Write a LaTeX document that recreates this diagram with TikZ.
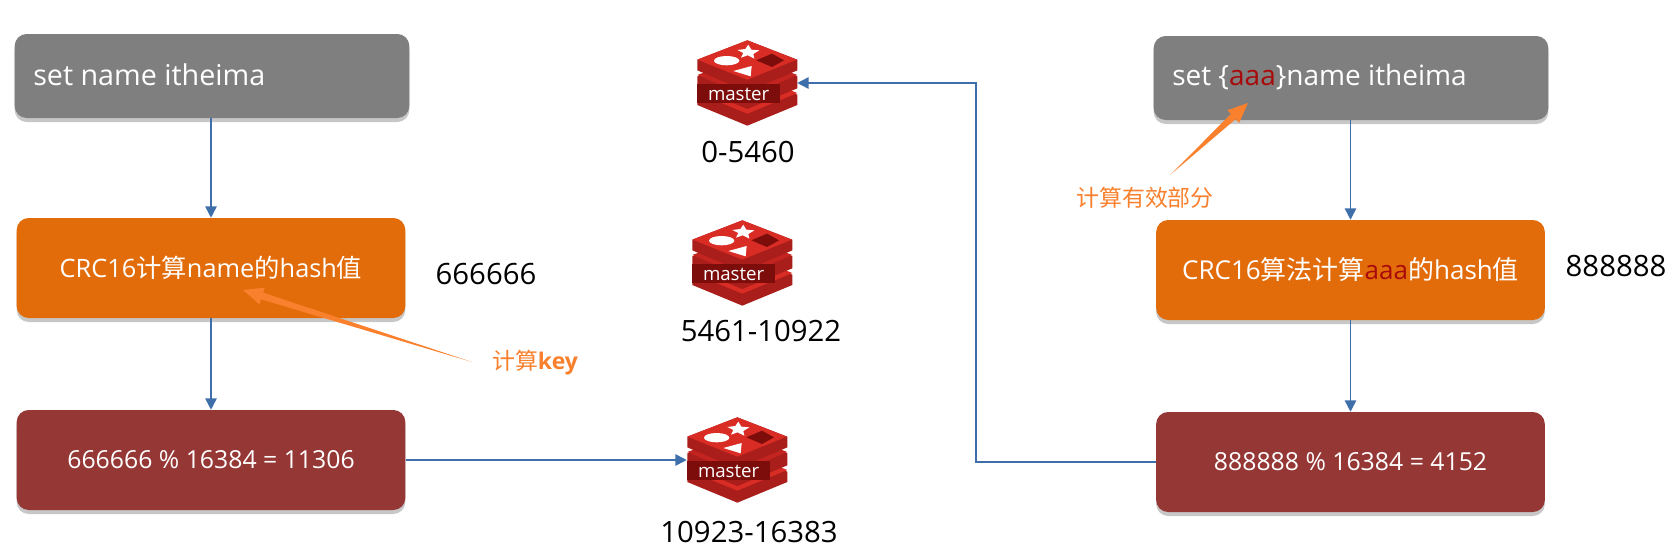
\documentclass[tikz,border=0pt]{standalone}
\usepackage{fontspec}
\setmainfont{Open Sans}
\newfontfamily\cjk{Noto Sans CJK SC}
\usetikzlibrary{arrows.meta,calc,shadows,positioning}
\definecolor{grayb}{HTML}{7F7F7F}
\definecolor{orangeb}{HTML}{E36C0A}
\definecolor{redb}{HTML}{953735}
\definecolor{linkb}{HTML}{3F6FAB}
\definecolor{note}{HTML}{F9812E}
\definecolor{aaared}{HTML}{A80A0A}
\definecolor{logoA}{HTML}{D92C25}
\definecolor{logoB}{HTML}{A91E1A}
\definecolor{logoC}{HTML}{C42420}
\definecolor{logoD}{HTML}{7C0D0B}
\tikzset{
  x=0.75pt,y=-0.75pt,
  boxbase/.style={rounded corners=12pt*0.75,minimum height=0.75pt*#1,inner sep=0pt,text=white,
    drop shadow={shadow xshift=0pt,shadow yshift=-3pt,opacity=.22,fill=black}},
  grayblock/.style={boxbase=84,fill=grayb,minimum width=296pt},
  orangeblock/.style={boxbase=100,fill=orangeb,minimum width=291.5pt,text=white},
  redblock/.style={boxbase=100,fill=redb,minimum width=291.5pt,font=\fontsize{18.6pt}{20pt}\selectfont},
  flow/.style={draw=linkb,line width=1.2pt,-{Triangle[length=8.5pt,width=8.5pt]}},
  plain/.style={font=\fontsize{22pt}{24pt}\selectfont,text=black,inner sep=0pt},
  notetext/.style={text=note,font=\fontsize{17.2pt}{18pt}\selectfont,inner sep=0pt},
  logobound/.style={minimum width=75pt,minimum height=65pt,inner sep=0pt},
  pics/redis/.style={code={
    \begin{scope}[x=0.25pt,y=-0.25pt,shift={(-261,-160)}]
      % bottom layer
      \fill[logoB] (112,195) -- (262,140) -- (412,195) -- (412,226) -- (262,288) -- (112,226) -- cycle;
      \fill[logoA] (112,190) -- (262,130) -- (412,190) -- (262,252) -- cycle;
      % middle layer
      \fill[logoB] (112,140) -- (262,90) -- (412,140) -- (412,176) -- (262,238) -- (112,176) -- cycle;
      \fill[logoC] (112,136) -- (262,80) -- (412,136) -- (262,200) -- cycle;
      % top layer
      \fill[logoB] (112,90) -- (262,32) -- (412,90) -- (412,122) -- (262,186) -- (112,122) -- cycle;
      \fill[logoA] (112,90) -- (262,32) -- (410,90) -- (262,150) -- cycle;
      % marks
      \fill[white] (200,93) ellipse [x radius=38,y radius=14];
      \fill[white] (265,45) -- (274,60) -- (298,62) -- (280,73) -- (283,87) -- (263,77) -- (243,84) -- (250,70) -- (232,61) -- (256,58) -- cycle;
      \fill[white] (220,124) -- (275,109) -- (272,140) -- cycle;
      \fill[logoD] (289,92) -- (336,72) -- (372,92) -- (336,112) -- cycle;
      % banner
      \fill[logoD] (112,162) -- (360,162) -- (360,220) -- (112,220) -- cycle;
    \end{scope}
    \node[text=white,inner sep=0pt,font=\fontsize{14pt}{16pt}\selectfont] at (-6.25pt,-8.5pt) {master};
  }}
}
\begin{document}
\begin{tikzpicture}
\useasboundingbox (0,0) rectangle (1678,546);
\fill[white] (0,0) rectangle (1678,546);

% left column
\node[grayblock] (g1) at (212,76) {};
\node[anchor=west,text=white,font=\fontsize{21.5pt}{24pt}\selectfont,inner sep=0pt] (g1t) at (33,75) {set name itheima};
\node[orangeblock,font=\fontsize{19pt}{20pt}\selectfont] (o1) at (211,268) {CRC16{\cjk 计算}name{\cjk 的}hash{\cjk 值}};
\node[redblock] (r1) at (211,460) {\raisebox{-1pt}{666666 \% 16384 = 11306}};

% right column
\node[grayblock] (g2) at (1351,78) {};
\node[anchor=west,text=white,font=\fontsize{21pt}{24pt}\selectfont,inner sep=0pt] (g2t) at (1172,77) {set \{\textcolor{aaared}{aaa}\}name itheima};
\node[orangeblock,font=\fontsize{19.5pt}{20pt}\selectfont] (o2) at (1350.5,270) {CRC16{\cjk 算法计算}\textcolor{aaared}{aaa}{\cjk 的}hash{\cjk 值}};
\node[redblock] (r2) at (1350.5,462) {\raisebox{-1pt}{888888 \% 16384 = 4152}};

% masters
\node[logobound] (m1) at (747,83) {};
\pic at (m1.center) {redis};
\node[logobound] (m2) at (742,263) {};
\pic at (m2.center) {redis};
\node[logobound] (m3) at (737,460) {};
\pic at (m3.center) {redis};

% labels
\node[plain] (l1) at (748,152) {0-5460};
\node[plain] (l2) at (761,331) {5461-10922};
\node[plain] (l3) at (749,532) {10923-16383};
\node[plain] (h1) at (486,274) {666666};
\node[plain] (h2) at (1616,266) {888888};

% flow
\draw[flow] (g1.south -| o1.north) -- (o1.north);
\draw[flow] (o1.south) -- (r1.north);
\draw[flow] (r1.east) -- (m3.west);
\draw[flow] (g2.south -| o2.north) -- (o2.north);
\draw[flow] (o2.south) -- (r2.north);
\coordinate (bend1) at (976,462);
\coordinate (bend2) at (976,83);
\draw[flow] (r2.west) -- (bend1) -- (bend2) -- (m1.east);

% annotations
\node[notetext] (n1) at (535,363) {{\cjk 计算}\textbf{key}};
\node[notetext] (n2) at (1145,198) {\cjk 计算有效部分};
\coordinate (t1) at (472,362);
\coordinate (p1) at (243,290);
\coordinate (t2) at (1170,175);
\coordinate (p2) at (1248,103);
\fill[note] (t1) -- ($(p1)!15pt!(t1)!2.6pt!90:(t1)$) -- ($(p1)!15pt!(t1)!6.5pt!90:(t1)$) -- (p1)
   -- ($(p1)!15pt!(t1)!6.5pt!-90:(t1)$) -- ($(p1)!15pt!(t1)!2.6pt!-90:(t1)$) -- cycle;
\fill[note] (t2) -- ($(p2)!15pt!(t2)!2.6pt!90:(t2)$) -- ($(p2)!15pt!(t2)!6.5pt!90:(t2)$) -- (p2)
   -- ($(p2)!15pt!(t2)!6.5pt!-90:(t2)$) -- ($(p2)!15pt!(t2)!2.6pt!-90:(t2)$) -- cycle;
\end{tikzpicture}
\end{document}
